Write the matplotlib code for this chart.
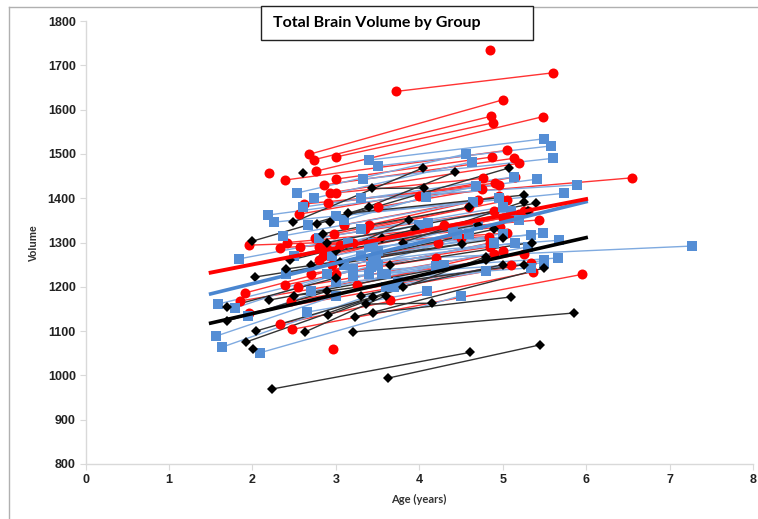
import matplotlib

matplotlib.use("Agg")
import matplotlib.pyplot as plt
from matplotlib.lines import Line2D
from matplotlib.patches import Rectangle

# each subject: first visit (age, volume) -> second visit (age, volume)
red_age1 = [2.68, 2.74, 3.00, 2.76, 3.72, 2.39, 3.00, 2.86, 2.93, 3.00, 2.91, 2.62,
            2.56, 4.00, 2.42, 2.57, 2.33, 1.96, 2.39, 1.91, 1.85, 2.46, 1.96, 2.33,
            2.48, 3.00, 2.80, 2.80, 2.90, 3.20, 2.98, 3.40,
            2.85, 3.05, 2.75, 3.35, 3.50, 2.70, 3.10, 2.95, 3.25, 2.55]
red_vol1 = [1499, 1487, 1493, 1461, 1641, 1441, 1443, 1430, 1412, 1412, 1389, 1387,
            1364, 1405, 1300, 1290, 1288, 1294, 1204, 1186, 1168, 1168, 1141, 1116,
            1104, 1230, 1260, 1290, 1285, 1300, 1320, 1340,
            1270, 1295, 1310, 1330, 1380, 1230, 1340, 1250, 1205, 1200]
red_age2 = [5.00, 4.86, 4.88, 5.48, 5.60, 5.05, 4.87, 5.13, 5.20, 4.77, 4.91, 4.96,
            5.15, 6.55, 5.43, 4.97, 5.05, 4.84, 4.85, 4.22, 5.25, 5.10, 5.34, 5.36,
            5.95, 4.20, 4.30, 5.20, 5.00, 5.30, 4.60, 4.70,
            5.10, 5.25, 4.90, 5.05, 4.75, 4.85, 4.95, 4.50, 5.00, 4.90]
red_vol2 = [1622, 1585, 1570, 1584, 1683, 1508, 1493, 1490, 1479, 1445, 1434, 1430,
            1448, 1446, 1351, 1335, 1321, 1313, 1299, 1300, 1274, 1250, 1253, 1234,
            1228, 1265, 1340, 1365, 1355, 1370, 1380, 1395,
            1360, 1372, 1370, 1395, 1420, 1290, 1405, 1310, 1280, 1275]
red_single_age = [4.85, 2.20, 2.97, 3.65]
red_single_vol = [1734, 1458, 1060, 1170]

blue_age1 = [3.40, 3.51, 3.32, 2.54, 2.74, 2.19, 2.61, 3.30, 2.26, 2.67, 3.10, 2.37,
             3.00, 1.84, 3.40, 3.50, 3.30, 3.45, 2.90, 3.20, 3.00, 2.66, 3.60, 3.10,
             1.59, 1.79, 1.57, 1.64, 2.09, 1.95, 2.40, 2.80, 3.45, 2.50,
             3.45, 3.48, 3.42, 3.55, 3.30, 3.15, 3.75, 2.95, 3.60, 2.70]
blue_vol1 = [1486, 1473, 1443, 1412, 1400, 1362, 1380, 1400, 1346, 1340, 1350, 1315,
             1360, 1263, 1290, 1280, 1270, 1260, 1230, 1225, 1210, 1143, 1230, 1250,
             1161, 1152, 1089, 1064, 1051, 1133, 1230, 1310, 1250, 1270,
             1300, 1270, 1245, 1230, 1330, 1300, 1210, 1270, 1200, 1190]
blue_age2 = [5.49, 5.58, 5.60, 4.56, 4.63, 5.41, 5.13, 5.89, 5.73, 4.68, 4.08, 4.64,
             4.95, 4.00, 5.34, 5.48, 5.67, 7.27, 5.66, 5.49, 5.34, 4.09, 4.20, 5.15,
             3.50, 3.20, 3.00, 3.70, 4.50, 3.40, 4.40, 5.00, 4.60, 4.10,
             5.20, 5.00, 4.90, 5.30, 5.10, 4.70, 5.50, 4.45, 4.80, 4.30]
blue_vol2 = [1534, 1518, 1490, 1500, 1482, 1443, 1448, 1430, 1411, 1427, 1403, 1392,
             1400, 1340, 1317, 1321, 1305, 1292, 1265, 1254, 1243, 1190, 1247, 1299,
             1250, 1240, 1180, 1200, 1180, 1230, 1330, 1380, 1320, 1345,
             1350, 1320, 1300, 1290, 1370, 1340, 1260, 1320, 1235, 1250]

black_age1 = [2.23, 3.63, 3.20, 3.45, 3.36, 3.23, 2.91, 2.04, 1.92, 1.69, 1.70, 2.03,
              2.00, 2.49, 2.78, 2.93, 3.15, 3.43, 2.90, 3.00, 2.70, 2.40, 2.50, 2.20,
              3.80, 2.63, 3.05, 3.55, 2.45, 3.30, 2.85, 3.65]
black_vol1 = [969, 994, 1098, 1141, 1161, 1132, 1136, 1100, 1075, 1154, 1123, 1222,
              1303, 1346, 1342, 1346, 1366, 1422, 1300, 1280, 1250, 1240, 1180, 1170,
              1300, 1098, 1255, 1310, 1260, 1180, 1320, 1250]
black_age2 = [4.61, 5.45, 5.86, 5.10, 4.15, 5.49, 4.80, 3.45, 3.80, 3.00, 2.90, 4.51,
              3.40, 4.04, 5.07, 4.43, 5.25, 4.06, 5.40, 4.70, 3.88, 5.00, 5.25, 4.80,
              5.25, 3.60, 4.90, 5.30, 3.95, 5.00, 4.60, 5.35]
black_vol2 = [1052, 1069, 1141, 1177, 1163, 1242, 1268, 1177, 1200, 1220, 1190, 1296,
              1380, 1468, 1468, 1459, 1407, 1423, 1389, 1340, 1351, 1310, 1250, 1260,
              1392, 1180, 1330, 1370, 1330, 1250, 1380, 1300]
black_single_age = [2.61, 2.01]
black_single_vol = [1457, 1060]

# group trend lines (age range, fitted volume at ends)
fit_age = [1.5, 6.0]
red_fit = [1232, 1398]
blue_fit = [1184, 1392]
black_fit = [1118, 1311]

RED = "#FF0000"
BLUE = "#558ED5"
BLACK = "#000000"

fig = plt.figure(figsize=(7.58, 5.19), dpi=100)
fig.patch.set_facecolor("white")
ax = fig.add_axes([0.1128, 0.106, 0.8806, 0.8535])


def draw_group(a1, v1, a2, v2, line_color, color, marker, size):
    for x1, y1, x2, y2 in zip(a1, v1, a2, v2):
        ax.plot([x1, x2], [y1, y2], color=line_color, linewidth=1.0, zorder=2)
        ax.plot([x1, x2], [y1, y2], linestyle="none", marker=marker,
                markersize=size, color=color, markeredgewidth=0, zorder=3)


draw_group(red_age1, red_vol1, red_age2, red_vol2, "#FF3333", RED, "o", 7.2)
ax.plot(red_single_age, red_single_vol, linestyle="none", marker="o",
        markersize=7.2, color=RED, markeredgewidth=0, zorder=3)
draw_group(blue_age1, blue_vol1, blue_age2, blue_vol2, "#7FAAE0", BLUE, "s", 6.5)
draw_group(black_age1, black_vol1, black_age2, black_vol2, "#333333", BLACK, "D", 5)
ax.plot(black_single_age, black_single_vol, linestyle="none", marker="D",
        markersize=5, color=BLACK, markeredgewidth=0, zorder=3)

ax.plot(fit_age, black_fit, color=BLACK, linewidth=2.6, zorder=4)
ax.plot(fit_age, blue_fit, color="#4A86D0", linewidth=2.6, zorder=4)
ax.plot(fit_age, red_fit, color=RED, linewidth=2.8, zorder=5)

ax.set_xlim(0, 8)
ax.set_ylim(800, 1800)
ax.set_xticks(range(0, 9))
ax.set_yticks(range(800, 1801, 100))
for side in ("top", "right"):
    ax.spines[side].set_visible(False)
for side in ("left", "bottom"):
    ax.spines[side].set_color("#D9D9D9")
    ax.spines[side].set_linewidth(1.0)
ax.tick_params(direction="out", length=4, width=0.8, color="#D9D9D9",
               labelcolor="#222222", pad=3)
for lab in ax.get_xticklabels() + ax.get_yticklabels():
    lab.set_fontfamily("Liberation Sans")
    lab.set_fontweight("bold")
    lab.set_fontsize(9)
ax.set_xlabel("Age (years)", family="Lato", fontweight="bold", fontsize=8,
              color="#333333", labelpad=6)
ax.set_ylabel("Volume", family="Liberation Sans", fontweight="bold", fontsize=7.5,
              color="#333333", labelpad=6)

# outer chart border and title box
fig.add_artist(Line2D([9 / 758, 9 / 758], [0, 1 - 7 / 519], color="#B0B0B0",
                      linewidth=1.0, transform=fig.transFigure))
fig.add_artist(Line2D([9 / 758, 1], [1 - 7 / 519, 1 - 7 / 519], color="#B0B0B0",
                      linewidth=1.0, transform=fig.transFigure))
fig.add_artist(Rectangle((261 / 758, 1 - 40 / 519), 272 / 758, 34 / 519,
                         transform=fig.transFigure, facecolor="white",
                         edgecolor="#222222", linewidth=1.0, zorder=10))
fig.text(273 / 758, 1 - 23 / 519, "Total Brain Volume by Group", family="Lato",
         fontweight="bold", fontsize=11.5, va="center", ha="left", zorder=11)

fig.savefig("out.png", dpi=100, facecolor="white")
